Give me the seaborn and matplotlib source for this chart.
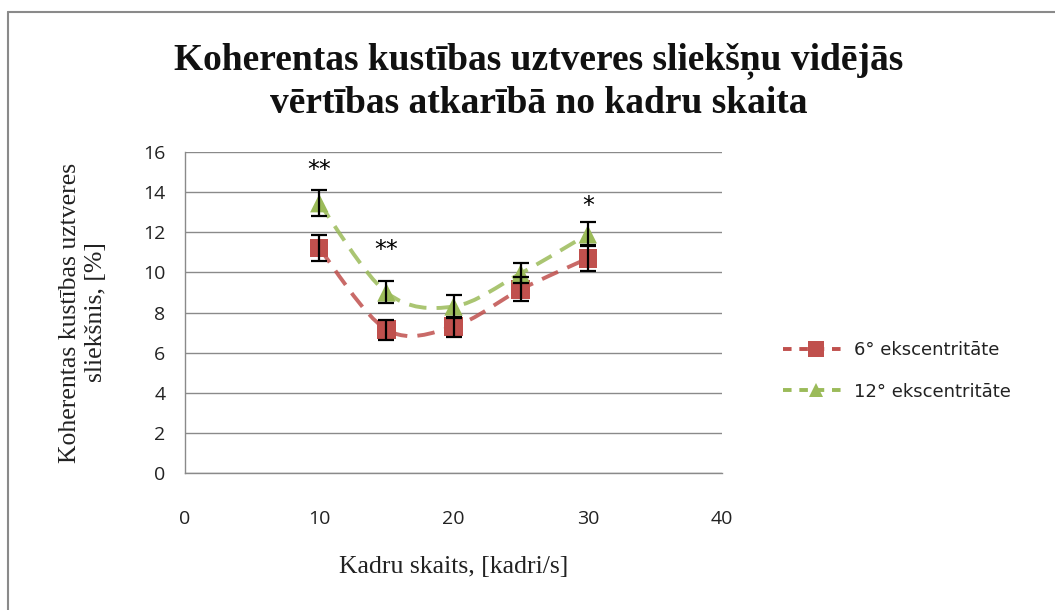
import numpy as np
import pandas as pd
import matplotlib
matplotlib.use('Agg')
import matplotlib.pyplot as plt
import seaborn as sns
from matplotlib.path import Path
from matplotlib.patches import PathPatch
from matplotlib.lines import Line2D

# Dati (nolasīti no attēla)
kadri = [10, 15, 20, 25, 30]
ecc6_mean = [11.2, 7.15, 7.3, 9.15, 10.7]
ecc6_err = [0.65, 0.5, 0.5, 0.6, 0.65]
ecc12_mean = [13.45, 9.0, 8.3, 9.95, 11.9]
ecc12_err = [0.65, 0.55, 0.55, 0.5, 0.6]
series_names = ['6° ekscentritāte', '12° ekscentritāte']
star_x = [10, 15, 30]
star_y = [15.1, 11.1, 13.3]
star_text = ['**', '**', '*']

red = '#C0504D'
green = '#9BBB59'

df = pd.DataFrame({
    'Kadri': kadri * 2,
    'Slieksnis': ecc6_mean + ecc12_mean,
    'Kluda': ecc6_err + ecc12_err,
    'Serija': [series_names[0]] * len(kadri) + [series_names[1]] * len(kadri),
})

sns.set_style('white')
plt.rcParams['font.family'] = ['DejaVu Sans']

fig = plt.figure(figsize=(10.55, 6.1), dpi=100)
ax = fig.add_axes([0.1754, 0.2246, 0.509, 0.5262])


def smooth_path(xs, ys):
    # Excel stila gludinātā līnija (Bezjē līknes caur punktiem)
    pts = np.column_stack([xs, ys]).astype(float)
    ext = np.vstack([pts[0], pts, pts[-1]])
    verts = [tuple(pts[0])]
    codes = [Path.MOVETO]
    for i in range(len(pts) - 1):
        p0, p1, p2, p3 = ext[i], ext[i + 1], ext[i + 2], ext[i + 3]
        c1 = p1 + (p2 - p0) / 6.0
        c2 = p2 - (p3 - p1) / 6.0
        verts += [tuple(c1), tuple(c2), tuple(p2)]
        codes += [Path.CURVE4] * 3
    return Path(verts, codes)


for name, col in zip(series_names, [red, green]):
    sub = df[df['Serija'] == name]
    patch = PathPatch(smooth_path(sub['Kadri'], sub['Slieksnis']), facecolor='none',
                      edgecolor=col, lw=2.8, linestyle=(0, (4.5, 2.6)), alpha=0.85, zorder=2)
    ax.add_patch(patch)
    ax.errorbar(sub['Kadri'], sub['Slieksnis'], yerr=sub['Kluda'], fmt='none',
                ecolor='black', elinewidth=1.6, capsize=6, capthick=1.6, zorder=4)

sns.scatterplot(data=df, x='Kadri', y='Slieksnis', hue='Serija', style='Serija',
                palette=[red, green], markers=['s', '^'], s=175, linewidth=0,
                legend=False, ax=ax, zorder=3)

for x, y, t in zip(star_x, star_y, star_text):
    ax.text(x, y, t, ha='center', va='center', fontsize=17, color='black',
            family='DejaVu Sans')

ax.set_xlim(0, 40)
ax.set_ylim(0, 16)
ax.set_xticks(range(0, 41, 10))
ax.set_yticks(range(0, 17, 2))
ax.yaxis.grid(True, color='#8a8a8a', lw=1)
ax.xaxis.grid(False)
for s in ['top', 'right']:
    ax.spines[s].set_visible(False)
for s in ['left', 'bottom']:
    ax.spines[s].set_color('#8a8a8a')
    ax.spines[s].set_linewidth(1)
ax.tick_params(axis='both', direction='out', length=5, width=1, color='#8a8a8a',
               labelsize=14, pad=9)
for lab in ax.get_xticklabels() + ax.get_yticklabels():
    lab.set_family('Open Sans')
    lab.set_color('#222222')
ax.tick_params(axis='x', pad=22)

ax.set_xlabel('Kadru skaits, [kadri/s]', family='Liberation Serif', fontsize=18.5,
              labelpad=20, color='#222222')
ax.set_ylabel('Koherentas kustības uztveres\nsliekšnis, [%]', family='Liberation Serif',
              fontsize=18.5, labelpad=26, color='#222222', linespacing=1.25)

fig.text(0.511, 0.866, 'Koherentas kustības uztveres sliekšņu vidējās\nvērtības atkarībā no kadru skaita',
         ha='center', va='center', family='Liberation Serif', fontweight='bold',
         fontsize=27, linespacing=1.25, color='#111111')

handles = [
    Line2D([], [], color=red, lw=2.8, linestyle=(0, (2.2, 2.0)), marker='s',
           markersize=11, markeredgewidth=0),
    Line2D([], [], color=green, lw=2.8, linestyle=(0, (2.2, 2.0)), marker='^',
           markersize=10, markeredgewidth=0),
]
leg = fig.legend(handles, series_names, loc='center left', bbox_to_anchor=(0.727, 0.392),
                 frameon=False, handlelength=3.6, handletextpad=0.3, labelspacing=1.3,
                 prop={'family': 'DejaVu Sans', 'size': 13})
for t in leg.get_texts():
    t.set_color('#222222')

# rāmis ap diagrammu
fig.add_artist(Line2D([8 / 1055, 1], [1 - 12 / 610, 1 - 12 / 610], color='#8a8a8a', lw=1.5,
                      transform=fig.transFigure))
fig.add_artist(Line2D([8 / 1055, 8 / 1055], [0, 1 - 12 / 610], color='#8a8a8a', lw=1.5,
                      transform=fig.transFigure))

fig.savefig('out.png', dpi=100)
